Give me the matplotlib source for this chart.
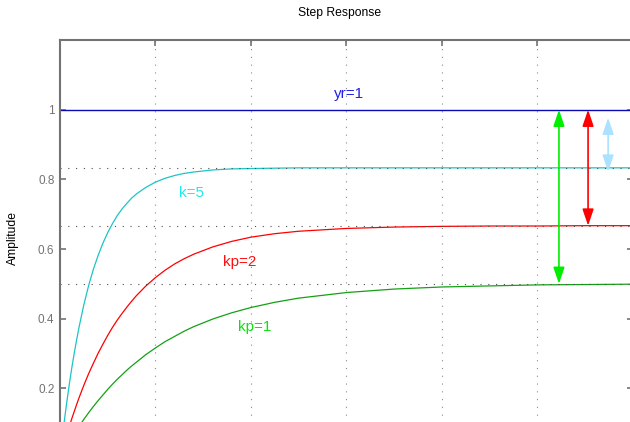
import matplotlib
matplotlib.use('Agg')
import matplotlib.pyplot as plt

plt.rcParams['font.family'] = ['Liberation Sans', 'DejaVu Sans']

# step response samples
t = [0, 0.025, 0.05, 0.075, 0.1, 0.125, 0.15, 0.175, 0.2, 0.25, 0.3, 0.35, 0.4,
     0.45, 0.5, 0.55, 0.6, 0.65, 0.7, 0.75, 0.8, 0.9, 1.0, 1.1, 1.2, 1.3, 1.4,
     1.6, 1.8, 2.0, 2.25, 2.5, 3.0, 3.5, 4.0, 4.5, 5.0, 5.5, 6.0]
y_k5 = [0, 0.060, 0.116, 0.168, 0.216, 0.261, 0.302, 0.340, 0.376, 0.440, 0.495,
        0.542, 0.582, 0.617, 0.647, 0.673, 0.696, 0.715, 0.731, 0.746, 0.758,
        0.777, 0.792, 0.803, 0.811, 0.817, 0.821, 0.827, 0.830, 0.831, 0.832,
        0.833, 0.833, 0.833, 0.833, 0.833, 0.833, 0.833, 0.833]
y_kp2 = [0, 0.025, 0.048, 0.071, 0.093, 0.114, 0.134, 0.154, 0.173, 0.209, 0.242,
         0.272, 0.301, 0.327, 0.352, 0.375, 0.396, 0.415, 0.433, 0.450, 0.466,
         0.494, 0.518, 0.539, 0.557, 0.572, 0.585, 0.606, 0.622, 0.634, 0.644,
         0.651, 0.659, 0.663, 0.665, 0.666, 0.666, 0.667, 0.667]
y_kp1 = [0, 0.012, 0.024, 0.036, 0.048, 0.059, 0.070, 0.080, 0.091, 0.111, 0.130,
         0.148, 0.165, 0.181, 0.197, 0.212, 0.226, 0.239, 0.252, 0.264, 0.275,
         0.297, 0.316, 0.334, 0.349, 0.364, 0.377, 0.399, 0.417, 0.432, 0.447,
         0.459, 0.475, 0.485, 0.491, 0.494, 0.497, 0.498, 0.499]
steady = [0.833, 0.667, 0.5]
yr = 1.0
yticks = [0.2, 0.4, 0.6, 0.8, 1.0]
yticklabels = ['0.2', '0.4', '0.6', '0.8', '1']
xticks = [1, 2, 3, 4, 5]

fig = plt.figure(figsize=(6.3, 4.22), dpi=100)
ax = fig.add_axes([0.0952, -0.0853, 0.9095, 0.9905])

ax.plot(t, y_k5, color='#1ec4c4', lw=0.9)
ax.plot(t, y_kp2, color='#ff0000', lw=0.9)
ax.plot(t, y_kp1, color='#14a014', lw=0.9)
ax.axhline(yr, color='#0a0ab4', lw=1.0)
for s in steady:
    ax.axhline(s, color='0.3', lw=0.8, ls=(0, (1, 6)))

ax.set_xlim(0, 6)
ax.set_ylim(0, 1.2)
ax.set_xticks(xticks)
ax.set_yticks(yticks)
ax.set_yticklabels(yticklabels)
ax.grid(axis='x', color='0.55', lw=0.8, ls=(0, (1, 6)))
ax.tick_params(direction='in', length=4, width=1.2, color='0.45',
               labelcolor='0.45', labelsize=8.5, pad=4,
               top=True, right=True, labelbottom=False)
for sp in ax.spines.values():
    sp.set_color('0.45')
    sp.set_linewidth(1.5)

# double arrows showing the steady-state errors
arrows = [(5.225, 1.0, 0.5, '#00ee00'), (5.53, 1.0, 0.667, '#ff0000'),
          (5.74, 0.977, 0.822, '#aae2ff')]
for x, y0, y1, c in arrows:
    ax.annotate('', xy=(x, y0), xytext=(x, y1),
                arrowprops=dict(arrowstyle='<|-|>,head_length=1.0,head_width=0.34',
                                color=c, lw=1.2, shrinkA=0, shrinkB=0,
                                mutation_scale=10))

ax.text(3.03, 1.044, 'yr=1', color='#2020e8', fontsize=11, ha='center', va='center')
ax.text(1.38, 0.760, 'k=5', color='#22e8e8', fontsize=11, ha='center', va='center')
ax.text(1.88, 0.562, 'kp=2', color='#ff1010', fontsize=11, ha='center', va='center')
ax.text(2.04, 0.375, 'kp=1', color='#10e010', fontsize=11, ha='center', va='center')

fig.text(340 / 630, 1 - 13 / 422, 'Step Response', fontsize=8.7, ha='center', va='center')
fig.text(13 / 630, 1 - 238 / 422, 'Amplitude', fontsize=8.7, rotation=90,
         ha='center', va='center')

fig.savefig('out.png', dpi=100)
